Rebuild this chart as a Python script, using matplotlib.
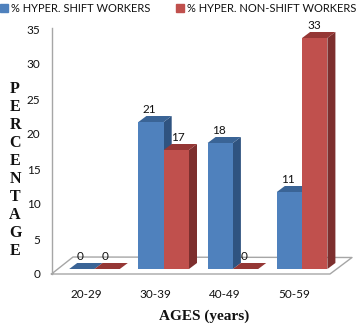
import numpy as np
import matplotlib
matplotlib.use("Agg")
import matplotlib.pyplot as plt
from matplotlib.patches import Patch

ages = ["20-29", "30-39", "40-49", "50-59"]
shift_workers = [0, 21, 18, 11]
non_shift_workers = [0, 17, 0, 33]
series_names = ["% HYPER. SHIFT WORKERS", "% HYPER. NON-SHIFT WORKERS"]

W, H = 360, 326
plt.rcParams["font.family"] = ["Lato", "DejaVu Sans"]

# pixel layout of the fake 3d box
left_px, right_px = 51.5, 352.0
zero_px, top_px = 274.0, 28.0
cat0_px, cat_step = 94.5, 69.2
px_per_unit = 7.0

fig = plt.figure(figsize=(W / 100, H / 100), dpi=100)
ax = fig.add_axes([left_px / W, 1 - zero_px / H, (right_px - left_px) / W, (zero_px - top_px) / H])
ax.set_xlim((left_px - cat0_px) / cat_step, (right_px - cat0_px) / cat_step)
ax.set_ylim(0, (zero_px - top_px) / px_per_unit)

bar_w = 25.3 / cat_step
dx = 8 / cat_step
dy = 6 / px_per_unit
base = 5 / px_per_unit  # bars stand on the floor, above the front edge

# floor outline
floor_dx = (right_px - 330) / cat_step
xmin = ax.get_xlim()[0]
xmax = ax.get_xlim()[1]
floor_x = [xmin, xmax - floor_dx, xmax, xmin + 21.5 / cat_step, xmin]
floor_y = [0, 0, 16.5 / px_per_unit, 17 / px_per_unit, 0]
ax.plot(floor_x, floor_y, color="#a6a6a6", lw=1.0, clip_on=False, zorder=1)


def draw_bar(x, v, front, side, top, z):
    y0 = base
    y1 = base + v
    if v > 0:
        ax.bar(x, v, bar_w, bottom=y0, align="edge", color=front, lw=0, zorder=z + 0.2)
        ax.fill([x + bar_w, x + bar_w + dx, x + bar_w + dx, x + bar_w],
                [y0, y0 + dy, y1 + dy, y1], color=side, lw=0, zorder=z)
    ax.fill([x, x + bar_w, x + bar_w + dx, x + dx],
            [y1, y1, y1 + dy, y1 + dy], color=top, lw=0, zorder=z + 0.1)


# small nudges in px so the red labels sit where the original put them
red_nudge = [-2, 2, -1, 0]

for i in range(len(ages)):
    draw_bar(i - bar_w, shift_workers[i], "#4f81bd", "#2f5380", "#3a6496", 2 + i)
    draw_bar(i, non_shift_workers[i], "#c0504d", "#7d2f2e", "#953735", 2.5 + i)
    ax.text(i - bar_w / 2 - 0.02, base + shift_workers[i] + 12.5 / px_per_unit, str(shift_workers[i]),
            ha="center", va="center", fontsize=8.5, color="#111111", zorder=10)
    ax.text(i + bar_w / 2 + red_nudge[i] / cat_step, base + non_shift_workers[i] + 12.5 / px_per_unit,
            str(non_shift_workers[i]), ha="center", va="center", fontsize=8.5, color="#111111", zorder=10)

for s in ["top", "right", "bottom"]:
    ax.spines[s].set_visible(False)
ax.spines["left"].set_color("#a6a6a6")
ax.spines["left"].set_linewidth(1.0)

ax.set_yticks(range(0, 36, 5))
ax.tick_params(axis="y", length=0, pad=8, labelsize=8.5, labelcolor="#111111")
ax.set_xticks([i - 8 / cat_step for i in range(len(ages))])
ax.set_xticklabels(ages)
ax.tick_params(axis="x", length=0, pad=11, labelsize=8.5, labelcolor="#111111")

serif = dict(family="Liberation Serif", fontweight="bold", color="#111111")
fig.text(204 / W, 1 - 316 / H, "AGES (years)", ha="center", va="center", fontsize=11, **serif)
fig.text(15 / W, 1 - 170 / H, "\n".join("PERCENTAGE"), ha="center", va="center",
         fontsize=11.5, linespacing=1.16, **serif)

handles = [Patch(color="#4f81bd"), Patch(color="#c0504d")]
fig.legend(handles, series_names, ncol=2, loc="center left", bbox_to_anchor=(0.0, 1 - 8.5 / H),
           frameon=False, fontsize=8, handlelength=0.7, handleheight=0.7,
           handletextpad=0.3, columnspacing=2.3, borderaxespad=0, borderpad=0,
           labelcolor="#111111")

fig.savefig("out.png", dpi=100)
